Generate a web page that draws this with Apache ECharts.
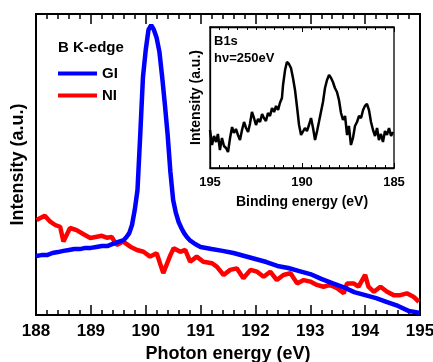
<!DOCTYPE html>
<html>
<head>
<meta charset="utf-8">
<script src="https://cdn.jsdelivr.net/npm/echarts@6/dist/echarts.min.js"></script>
<style>
  html, body { margin: 0; padding: 0; background: #fff; }
  #chart { width: 433px; height: 362px; }
</style>
</head>
<body>
<div id="chart"></div>
<script>
// B K-edge NEXAFS, photon energy (eV) vs intensity (a.u.)
const giEnergy = [188.0, 188.1, 188.2, 188.3, 188.4, 188.5, 188.6, 188.7, 188.8, 188.9, 189.0, 189.1, 189.2, 189.3, 189.4, 189.5,
  189.6, 189.65, 189.7, 189.75, 189.8, 189.85, 189.9, 189.95, 190.0, 190.05, 190.1, 190.15, 190.2, 190.25, 190.3, 190.35,
  190.4, 190.45, 190.5, 190.55, 190.6, 190.65, 190.7, 190.75, 190.8, 190.9, 191.0, 191.2, 191.4, 191.6, 191.8, 192.0,
  192.2, 192.4, 192.6, 192.8, 193.0, 193.2, 193.4, 193.6, 193.8, 194.0, 194.2, 194.4, 194.6, 194.8, 195.0];
const giIntensity = [0.196, 0.199, 0.199, 0.206, 0.209, 0.213, 0.216, 0.219, 0.219, 0.223, 0.223, 0.226, 0.229, 0.229, 0.236, 0.243,
  0.249, 0.259, 0.272, 0.299, 0.349, 0.415, 0.598, 0.791, 0.880, 0.947, 0.963, 0.947, 0.920, 0.874, 0.791, 0.698,
  0.598, 0.475, 0.382, 0.339, 0.309, 0.289, 0.272, 0.259, 0.249, 0.236, 0.226, 0.219, 0.213, 0.206, 0.196, 0.186,
  0.176, 0.163, 0.156, 0.146, 0.136, 0.120, 0.106, 0.093, 0.076, 0.066, 0.056, 0.043, 0.030, 0.013, 0.007];

const niEnergy = [188.01, 188.16, 188.26, 188.35, 188.44, 188.50, 188.62, 188.74, 188.86, 188.99, 189.11, 189.20, 189.29, 189.38,
  189.47, 189.59, 189.72, 189.84, 189.96, 190.08, 190.20, 190.32, 190.45, 190.51, 190.63, 190.72, 190.81, 190.93,
  191.05, 191.21, 191.30, 191.42, 191.54, 191.66, 191.78, 191.91, 192.03, 192.15, 192.27, 192.39, 192.51, 192.64,
  192.76, 192.88, 193.00, 193.12, 193.24, 193.36, 193.49, 193.61, 193.67, 193.79, 193.88, 194.00, 194.06, 194.16,
  194.28, 194.40, 194.52, 194.64, 194.76, 194.88, 194.98];
const niIntensity = [0.316, 0.330, 0.310, 0.299, 0.293, 0.244, 0.289, 0.282, 0.269, 0.256, 0.260, 0.263, 0.257, 0.259,
  0.233, 0.244, 0.227, 0.216, 0.210, 0.194, 0.205, 0.139, 0.199, 0.222, 0.210, 0.216, 0.177, 0.194,
  0.177, 0.172, 0.160, 0.133, 0.150, 0.155, 0.122, 0.150, 0.144, 0.127, 0.144, 0.116, 0.133, 0.139,
  0.105, 0.116, 0.111, 0.100, 0.094, 0.100, 0.089, 0.072, 0.105, 0.105, 0.094, 0.133, 0.094, 0.077,
  0.094, 0.077, 0.066, 0.066, 0.072, 0.061, 0.044];

// inset: B1s XPS, binding energy (eV) vs intensity (a.u.)
const b1sEnergy = [195.00, 194.89, 194.78, 194.67, 194.57, 194.46, 194.35, 194.24, 194.13, 194.02, 193.91, 193.80, 193.70,
  193.59, 193.48, 193.37, 193.26, 193.15, 193.04, 192.93, 192.83, 192.72, 192.61, 192.50, 192.39, 192.28, 192.17,
  192.07, 191.96, 191.85, 191.74, 191.63, 191.52, 191.41, 191.30, 191.20, 191.09, 191.03, 190.92, 190.82, 190.71,
  190.60, 190.49, 190.38, 190.27, 190.16, 190.05, 189.95, 189.84, 189.73, 189.62, 189.51, 189.40, 189.29, 189.18,
  189.08, 188.97, 188.86, 188.75, 188.64, 188.53, 188.42, 188.32, 188.21, 188.10, 187.99, 187.88, 187.77, 187.66,
  187.55, 187.45, 187.34, 187.23, 187.12, 187.01, 186.90, 186.79, 186.68, 186.58, 186.47, 186.36, 186.25, 186.14,
  186.03, 185.92, 185.82, 185.71, 185.60, 185.49, 185.38, 185.27, 185.16, 185.05];
const b1sIntensity = [38, 23, 32, 26, 34, 18, 30, 22, 20, 16, 30, 41, 35,
  39, 33, 28, 38, 46, 40, 36, 44, 56, 50, 43, 49, 46, 54,
  50, 47, 55, 52, 60, 56, 62, 58, 65, 70, 83, 98, 106, 104,
  100, 90, 78, 61, 43, 33, 35, 40, 37, 43, 50, 40, 28, 37,
  46, 56, 66, 80, 88, 93, 90, 86, 80, 76, 68, 55, 48, 52,
  33, 42, 23, 30, 42, 46, 52, 50, 58, 62, 64, 58, 46, 38,
  32, 40, 28, 34, 26, 37, 33, 40, 32, 36];

const FONT = '"Liberation Sans", Arial, sans-serif';

function pairs(xs, ys) {
  return xs.map((x, i) => [x, ys[i]]);
}

const boldText = (size) => ({ fontFamily: FONT, fontWeight: 'bold', fontSize: size, color: '#000' });

// inward ticks used on both the bottom and the top edge of a frame
function inTicks(major, minor, width, split) {
  return {
    axisTick: { show: true, inside: true, length: major, lineStyle: { color: '#000', width } },
    minorTick: { show: true, splitNumber: split, length: minor, lineStyle: { color: '#000', width } }
  };
}

// y axes keep the default onZero: with it switched off the x ticks were not drawn
function hiddenY(grid, max, name, size, gap, lineWidth) {
  return {
    gridIndex: grid, type: 'value', min: 0, max,
    name, nameLocation: 'middle', nameGap: gap, nameTextStyle: boldText(size),
    axisLine: { show: true, lineStyle: { color: '#000', width: lineWidth } },
    axisTick: { show: false }, axisLabel: { show: false }, splitLine: { show: false }
  };
}

const chart = echarts.init(document.getElementById('chart'), null, { renderer: 'canvas' });

chart.setOption({
  backgroundColor: '#fff',
  animation: false,
  title: [
    { text: 'B K-edge', left: 58, top: 40, padding: 0, textStyle: boldText(15) },
    { text: 'B1s\nhν=250eV', left: 214, top: 33, padding: 0, textStyle: { ...boldText(13), lineHeight: 17 } }
  ],
  legend: {
    orient: 'vertical',
    left: 58,
    top: 66,
    padding: 0,
    itemGap: 7,
    itemWidth: 39,
    itemHeight: 4,
    icon: 'rect',
    textStyle: boldText(15),
    data: ['GI', 'NI']
  },
  // frame drawn by the grid border; outerBoundsMode 'none' keeps ECharts 6 from shrinking the grids
  grid: [
    { left: 36, top: 14, right: 13, bottom: 47, outerBoundsMode: 'none', show: true, borderColor: '#000', borderWidth: 2 },
    { left: 210, top: 27, width: 184, height: 141, outerBoundsMode: 'none', show: true, borderColor: '#000', borderWidth: 1.3 }
  ],
  xAxis: [
    {
      gridIndex: 0, type: 'value', min: 188, max: 195, interval: 1,
      name: 'Photon energy (eV)', nameLocation: 'middle', nameGap: 28, nameTextStyle: boldText(18),
      axisLine: { onZero: false, lineStyle: { color: '#000', width: 2 } },
      ...inTicks(10, 5, 1.5, 5),
      axisLabel: { ...boldText(17), margin: 8 },
      splitLine: { show: false }
    },
    {
      gridIndex: 0, type: 'value', position: 'top', min: 188, max: 195, interval: 1,
      axisLine: { onZero: false, lineStyle: { color: '#000', width: 2 } },
      ...inTicks(10, 5, 1.5, 5),
      axisLabel: { show: false },
      splitLine: { show: false }
    },
    {
      gridIndex: 1, type: 'value', min: 185, max: 195, interval: 5, inverse: true,
      name: 'Binding energy (eV)', nameLocation: 'middle', nameGap: 27, nameTextStyle: boldText(14),
      axisLine: { onZero: false, lineStyle: { color: '#000', width: 1.3 } },
      ...inTicks(5, 3, 1, 10),
      axisLabel: { ...boldText(13), margin: 8 },
      splitLine: { show: false }
    },
    {
      gridIndex: 1, type: 'value', position: 'top', min: 185, max: 195, interval: 5, inverse: true,
      axisLine: { onZero: false, lineStyle: { color: '#000', width: 1.3 } },
      ...inTicks(5, 3, 1, 10),
      axisLabel: { show: false },
      splitLine: { show: false }
    }
  ],
  yAxis: [
    hiddenY(0, 1, 'Intensity (a.u.)', 18, 9, 2),
    hiddenY(1, 141, 'Intensity (a.u.)', 14, 7, 1.3)
  ],
  series: [
    {
      name: 'NI', type: 'line', xAxisIndex: 0, yAxisIndex: 0,
      data: pairs(niEnergy, niIntensity),
      symbol: 'none', color: '#ff0000',
      lineStyle: { color: '#ff0000', width: 4.5 }
    },
    {
      name: 'GI', type: 'line', xAxisIndex: 0, yAxisIndex: 0,
      data: pairs(giEnergy, giIntensity),
      symbol: 'none', color: '#0000ff',
      lineStyle: { color: '#0000ff', width: 4.5 }
    },
    {
      name: 'B1s', type: 'line', xAxisIndex: 2, yAxisIndex: 1,
      data: pairs(b1sEnergy, b1sIntensity),
      symbol: 'none', color: '#000',
      lineStyle: { color: '#000', width: 2.5 }
    }
  ]
});
</script>
</body>
</html>
